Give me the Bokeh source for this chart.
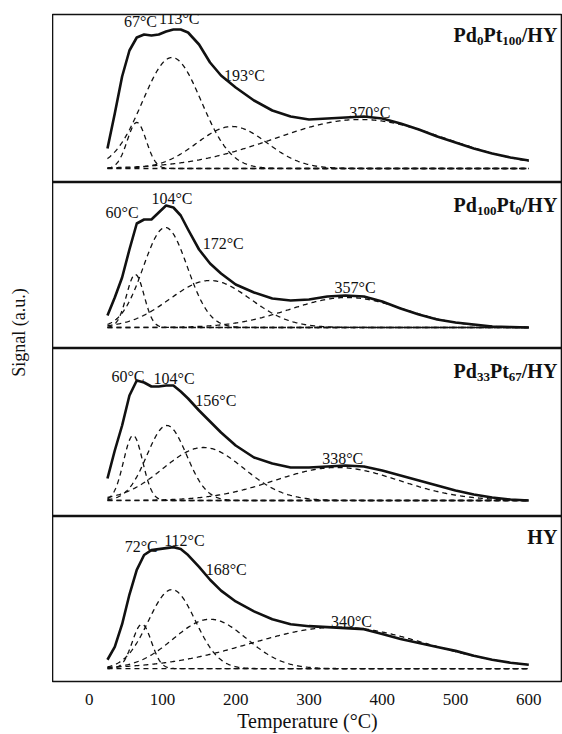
import numpy as np
from bokeh.plotting import figure
from bokeh.layouts import column, row
from bokeh.models import Label, Range1d
from bokeh.embed import file_html
from bokeh.resources import INLINE

# ---------------- data ----------------
temps = [25, 35, 45, 55, 65, 75, 85, 95, 105, 115, 125, 135, 150, 165, 180, 200,
         225, 250, 275, 300, 325, 350, 375, 400, 425, 450, 475, 500, 525, 550, 575, 600]

signal_pd0pt100 = [20, 55, 92, 118, 131, 134, 133, 134, 137, 139, 139, 136, 124, 106, 93, 81,
                   68, 58, 52, 49, 50, 51, 52, 50, 45, 39, 32, 26, 20, 15, 11, 8]
signal_pd100pt0 = [12, 30, 50, 78, 104, 108, 108, 115, 122, 120, 112, 98, 78, 64, 54, 43,
                   35, 29, 27, 28, 31, 32, 31, 26, 19, 13, 8, 5, 3, 1, 0.5, 0]
signal_pd33pt67 = [22, 50, 75, 105, 120, 118, 114, 114, 115, 115, 109, 102, 90, 79, 68, 55,
                   43, 37, 33, 33, 34, 35, 34, 30, 25, 20, 15, 10, 6, 3, 1, 0]
signal_hy = [9, 22, 45, 75, 100, 115, 120, 121, 122, 123, 121, 115, 103, 90, 79, 68,
             58, 50, 45, 43, 42, 41, 40, 35, 30, 26, 22, 18, 13, 9, 6, 4]

# fitted component peaks: centre (degC), height (a.u.), width (sigma, degC)
centers_pd0pt100 = [65, 113, 195, 370]
heights_pd0pt100 = [46, 111, 42, 49]
sigmas_pd0pt100 = [13, 40, 48, 118]

centers_pd100pt0 = [63, 104, 165, 352]
heights_pd100pt0 = [53, 100, 47, 30]
sigmas_pd100pt0 = [12, 30, 55, 78]

centers_pd33pt67 = [60, 106, 156, 338]
heights_pd33pt67 = [65, 75, 53, 33]
sigmas_pd33pt67 = [13, 27, 55, 85]

centers_hy = [72, 113, 165, 340]
heights_hy = [45, 80, 50, 42]
sigmas_hy = [13, 32, 50, 120]

peak_text_pd0pt100 = ["67°C", "113°C", "193°C", "370°C"]
peak_text_pd100pt0 = ["60°C", "104°C", "172°C", "357°C"]
peak_text_pd33pt67 = ["60°C", "104°C", "156°C", "338°C"]
peak_text_hy = ["72°C", "112°C", "168°C", "340°C"]

x_ticks = [0, 100, 200, 300, 400, 500, 600]

# ---------------- layout / style ----------------
SERIF = "Liberation Serif"
INK = "#111111"
X_RANGE = (-50, 646)
FRAME_W = 510

panels = [
    dict(signal=signal_pd0pt100, c=centers_pd0pt100, h=heights_pd0pt100, s=sigmas_pd0pt100,
         txt=peak_text_pd0pt100, lx=[70, 123, 212, 383], ly=[147, 150, 93, 56],
         title=[("Pd", False), ("0", True), ("Pt", False), ("100", True), ("/HY", False)],
         frame_h=168, ylo=-14, top=14, bottom=0, title_y=134),
    dict(signal=signal_pd100pt0, c=centers_pd100pt0, h=heights_pd100pt0, s=sigmas_pd100pt0,
         txt=peak_text_pd100pt0, lx=[45, 113, 183, 363], ly=[115, 129, 84, 40],
         title=[("Pd", False), ("100", True), ("Pt", False), ("0", True), ("/HY", False)],
         frame_h=166, ylo=-21, top=0, bottom=0, title_y=123),
    dict(signal=signal_pd33pt67, c=centers_pd33pt67, h=heights_pd33pt67, s=sigmas_pd33pt67,
         txt=peak_text_pd33pt67, lx=[53, 116, 173, 346], ly=[124, 122, 100, 42],
         title=[("Pd", False), ("33", True), ("Pt", False), ("67", True), ("/HY", False)],
         frame_h=168, ylo=-16, top=0, bottom=0, title_y=130),
    dict(signal=signal_hy, c=centers_hy, h=heights_hy, s=sigmas_hy,
         txt=peak_text_hy, lx=[71, 130, 187, 358], ly=[124, 130, 100, 48],
         title=[("HY", False)],
         frame_h=167, ylo=-13, top=0, bottom=51, title_y=133),
]

# approximate advance widths (em) of bold Times-like glyphs
ADV = {"P": 0.611, "d": 0.556, "t": 0.333, "/": 0.278, "H": 0.778, "Y": 0.722}
def text_w(s, size):
    return sum(ADV.get(ch, 0.5) for ch in s) * size

fine_t = np.arange(25, 601, 1.0)
figs = []
for i, pn in enumerate(panels):
    last = i == len(panels) - 1
    p = figure(width=FRAME_W, height=pn["frame_h"] + pn["top"] + pn["bottom"],
               x_range=Range1d(*X_RANGE),
               y_range=Range1d(pn["ylo"], pn["ylo"] + pn["frame_h"]),
               output_backend="svg", toolbar_location=None,
               x_axis_location="below" if last else None, y_axis_location=None,
               min_border_left=0, min_border_right=0,
               min_border_top=pn["top"], min_border_bottom=pn["bottom"])
    p.grid.visible = False
    p.outline_line_color = INK
    p.outline_line_width = 1.6
    p.background_fill_color = "white"
    p.border_fill_color = "white"

    # baseline
    p.line([temps[0], temps[-1]], [0, 0], line_color=INK, line_width=1.3, line_dash="5 4")
    # components
    for c, h, s in zip(pn["c"], pn["h"], pn["s"]):
        comp = h * np.exp(-((fine_t - c) ** 2) / (2.0 * s * s))
        p.line(fine_t, comp, line_color=INK, line_width=1.3, line_dash="5 4")
    # measured signal
    p.line(temps, pn["signal"], line_color=INK, line_width=2.6, line_join="round")

    for t, x, y in zip(pn["txt"], pn["lx"], pn["ly"]):
        p.add_layout(Label(x=x, y=y, text=t, text_font=SERIF, text_font_size="16px",
                           text_color=INK, text_align="center", text_baseline="alphabetic"))

    # sample name, right aligned, with subscripts
    off = 0.0
    for part, sub in reversed(pn["title"]):
        size = 13 if sub else 20
        yy = pn["title_y"] - (6 if sub else 0)
        p.add_layout(Label(x=639, y=yy, x_offset=-off, text=part, text_font=SERIF,
                           text_font_size=f"{size}px", text_font_style="bold",
                           text_color=INK, text_align="right", text_baseline="alphabetic"))
        off += text_w(part, size)

    if last:
        ax = p.xaxis[0]
        ax.ticker = x_ticks
        ax.axis_line_color = None
        ax.major_tick_line_color = None
        ax.minor_tick_line_color = None
        ax.major_label_text_font = SERIF
        ax.major_label_text_font_size = "17px"
        ax.major_label_text_color = INK
        ax.major_label_standoff = 6
        ax.axis_label = "Temperature (°C)"
        ax.axis_label_text_font = SERIF
        ax.axis_label_text_font_size = "20px"
        ax.axis_label_text_font_style = "normal"
        ax.axis_label_text_color = INK
        ax.axis_label_standoff = 2
    figs.append(p)

total_h = sum(pn["frame_h"] + pn["top"] + pn["bottom"] for pn in panels)
lab = figure(width=52, height=total_h, x_range=Range1d(0, 52), y_range=Range1d(0, total_h),
             output_backend="svg", toolbar_location=None,
             x_axis_location=None, y_axis_location=None,
             min_border=0, outline_line_color=None)
lab.grid.visible = False
lab.add_layout(Label(x=18, y=total_h - 332, text="Signal (a.u.)", angle=np.pi / 2,
                     text_font=SERIF, text_font_size="18px", text_color=INK,
                     text_align="center", text_baseline="middle"))

layout = row(lab, column(*figs, spacing=0), spacing=0)
open("out.html", "w").write(file_html(layout, INLINE))
